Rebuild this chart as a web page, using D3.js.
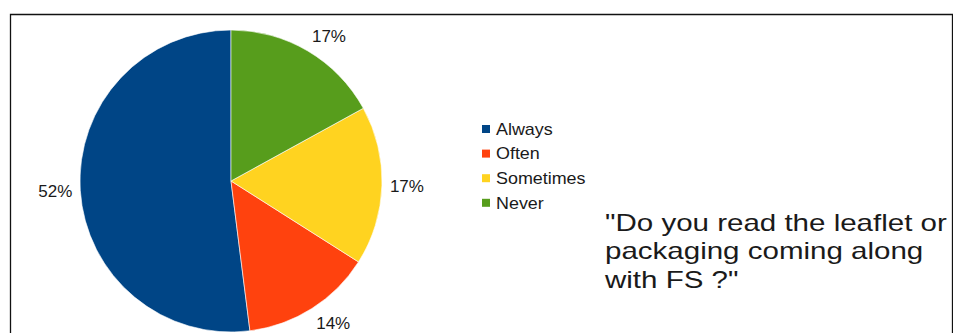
<!DOCTYPE html>
<html>
<head>
<meta charset="utf-8">
<script src="https://cdn.jsdelivr.net/npm/d3@7"></script>
<style>
  html, body { margin: 0; padding: 0; background: #fff; }
  svg { display: block; }
  text { font-family: "Liberation Sans", Arial, sans-serif; fill: #1a1a1a; }
</style>
</head>
<body>
<svg id="chart" width="953" height="333"></svg>
<script>
// Survey answers and their shares (percent)
const categories = ["Always", "Often", "Sometimes", "Never"];
const values = [52, 14, 17, 17];
const colors = ["#004586", "#ff420e", "#ffd320", "#579d1c"];
const titleLines = ["\"Do you read the leaflet or", "packaging coming along", "with FS ?\""];

const svg = d3.select("#chart");

// Frame around the plot area
svg.append("path")
  .attr("d", "M10.5,333 V14.5 H952.5 V333")
  .attr("fill", "none")
  .attr("stroke", "#111")
  .attr("stroke-width", 1.3);

const cx = 231, cy = 181, r = 151;
const data = categories.map((c, i) => ({ name: c, value: values[i], color: colors[i] }));

// Slices run counter-clockwise from 12 o'clock
const pie = d3.pie().value(d => d.value).sort(null)
  .startAngle(0).endAngle(-2 * Math.PI);
const arcs = pie(data);
const arc = d3.arc().innerRadius(0).outerRadius(r);

const g = svg.append("g").attr("transform", `translate(${cx},${cy})`);
g.selectAll("path.slice").data(arcs).enter().append("path")
  .attr("class", "slice")
  .attr("d", arc)
  .attr("fill", d => d.data.color)
  .attr("stroke", "#fff")
  .attr("stroke-width", 0.6);

// Percentage labels placed just outside each slice's midpoint
const off = r + 8;
g.selectAll("text.pct").data(arcs).enter().append("text")
  .attr("class", "pct")
  .each(function(d) {
    const a = (d.startAngle + d.endAngle) / 2;
    const s = Math.sin(a), c = Math.cos(a);
    const x = off * s, y = -off * c;
    const t = d3.select(this)
      .attr("x", x).attr("y", y)
      .attr("font-size", 17)
      .attr("text-anchor", s > 0.2 ? "start" : s < -0.2 ? "end" : "middle");
    if (c > 0.2) t.attr("dy", "-0.1em");
    else if (c < -0.2) t.attr("dy", "0.8em");
    else t.attr("dy", "0.35em");
  })
  .text(d => Math.round(d.data.value) + "%");

// Legend
const legend = svg.append("g").attr("transform", "translate(482,129)");
const rowH = 24.6;
const items = legend.selectAll("g").data(data).enter().append("g")
  .attr("transform", (d, i) => `translate(0,${i * rowH})`);
items.append("rect")
  .attr("x", 0).attr("y", -4).attr("width", 8).attr("height", 8)
  .attr("fill", d => d.color);
items.append("text")
  .attr("transform", "translate(14,0) scale(1.12,1)")
  .attr("dy", "0.36em")
  .attr("font-size", 16)
  .text(d => d.name);

// Question caption
const caption = svg.append("g").attr("transform", "translate(605,231) scale(1.23,1)");
caption.selectAll("text").data(titleLines).enter().append("text")
  .attr("x", 0).attr("y", (d, i) => i * 28.5)
  .attr("font-size", 24)
  .text(d => d);
</script>
</body>
</html>
